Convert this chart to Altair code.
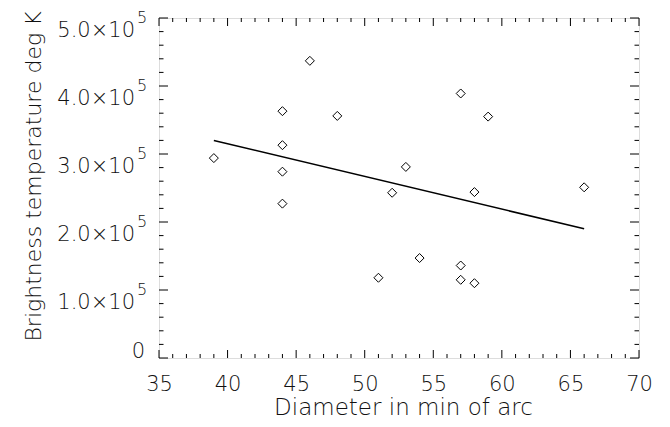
import altair as alt
import pandas as pd

# ---- data ----
diameter = [39, 44, 44, 44, 44, 46, 48, 51, 52, 53, 54, 57, 57, 57, 58, 58, 59, 66]
temperature = [2.94e5, 3.63e5, 3.13e5, 2.74e5, 2.27e5, 4.37e5, 3.56e5, 1.18e5, 2.43e5,
               2.81e5, 1.47e5, 3.89e5, 1.36e5, 1.15e5, 2.44e5, 1.10e5, 3.55e5, 2.51e5]
fit_x = [39, 66]
fit_y = [3.20e5, 1.90e5]

x_major = [35, 40, 45, 50, 55, 60, 65, 70]
x_minor = [v for v in range(35, 71) if v % 5 != 0]
y_major = [0, 100000, 200000, 300000, 400000, 500000]
y_minor = [v for v in range(0, 500001, 20000) if v % 100000 != 0]
y_label_main = ["0", "1.0×10", "2.0×10", "3.0×10", "4.0×10", "5.0×10"]
y_label_exp = ["", "5", "5", "5", "5", "5"]

W, H = 480, 340
FONT = "DejaVu Sans"
FW = 200
TXT = "#111"

pts = pd.DataFrame({"d": diameter, "t": temperature})
fit = pd.DataFrame({"d": fit_x, "t": fit_y})
xmaj = pd.DataFrame({"d": x_major})
xmin = pd.DataFrame({"d": x_minor})
ymaj = pd.DataFrame({"t": y_major})
ymin = pd.DataFrame({"t": y_minor})
ylab = pd.DataFrame({"t": y_major, "m": y_label_main, "e": y_label_exp})

xs = alt.Scale(domain=[35, 70], nice=False, zero=False)
ys = alt.Scale(domain=[0, 500000], nice=False)

x_axis = alt.Axis(
    values=x_major, title="Diameter in min of arc", ticks=False, domain=False,
    grid=False, tickSize=0, labelFontSize=21, labelFont=FONT, labelFontWeight=FW,
    labelColor=TXT, labelBaseline="alphabetic", labelPadding=32, labelFlush=False,
    titleFont=FONT, titleFontSize=23, titleFontWeight=FW, titleColor=TXT,
    titleBaseline="alphabetic", titleX=244, titleY=56, titleAlign="center")
y_axis = alt.Axis(
    values=y_major, labels=False, ticks=False, domain=False, grid=False, tickSize=0,
    title="Brightness temperature deg K", titleFont=FONT, titleFontSize=22,
    titleFontWeight=FW, titleColor=TXT, titleBaseline="alphabetic",
    titleX=-119, titleY=158, titleAngle=270, titleAlign="center")

X = alt.X("d:Q", scale=xs, axis=x_axis, title="Diameter in min of arc")
Y = alt.Y("t:Q", scale=ys, axis=y_axis, title="Brightness temperature deg K")

points = alt.Chart(pts).mark_point(
    shape="diamond", filled=False, size=81, color="black", strokeWidth=1, opacity=1
).encode(x=X, y=Y)

line = alt.Chart(fit).mark_line(color="black", strokeWidth=1.5).encode(x=X, y=Y)


def xticks(df, length):
    bottom = alt.Chart(df).mark_rule(color="black", strokeWidth=1).encode(
        x=X, y=alt.value(H), y2=alt.value(H - length))
    top = alt.Chart(df).mark_rule(color="black", strokeWidth=1).encode(
        x=X, y=alt.value(0), y2=alt.value(length))
    return [bottom, top]


def yticks(df, length):
    left = alt.Chart(df).mark_rule(color="black", strokeWidth=1).encode(
        y=Y, x=alt.value(0), x2=alt.value(length))
    right = alt.Chart(df).mark_rule(color="black", strokeWidth=1).encode(
        y=Y, x=alt.value(W - length), x2=alt.value(W))
    return [left, right]


ticks = xticks(xmaj, 8) + xticks(xmin, 4) + yticks(ymaj, 9) + yticks(ymin, 4.5)

lab_base = alt.Chart(ylab)
zero_lab = lab_base.transform_filter(alt.datum.t == 0).mark_text(
    align="right", baseline="alphabetic", font=FONT, fontSize=21, fontWeight=FW,
    color=TXT, dy=0).encode(y=Y, x=alt.value(-14), text="m:N")
main_lab = lab_base.transform_filter(alt.datum.t > 0).mark_text(
    align="right", baseline="alphabetic", font=FONT, fontSize=21, fontWeight=FW,
    color=TXT, dy=19).encode(y=Y, x=alt.value(-24), text="m:N")
exp_lab = lab_base.transform_filter(alt.datum.t > 0).mark_text(
    align="left", baseline="alphabetic", font=FONT, fontSize=16, fontWeight=FW,
    color=TXT, dy=5).encode(y=Y, x=alt.value(-22), text="e:N")

chart = alt.layer(points, line, *ticks, zero_lab, main_lab, exp_lab).properties(
    width=W, height=H,
    autosize=alt.AutoSizeParams(type="none"),
    padding={"left": 151, "top": 10, "right": 15, "bottom": 61},
).configure_view(stroke="black", strokeWidth=1).configure(background="white")

chart.save("out.html", embed_options={"renderer": "svg", "actions": False})
